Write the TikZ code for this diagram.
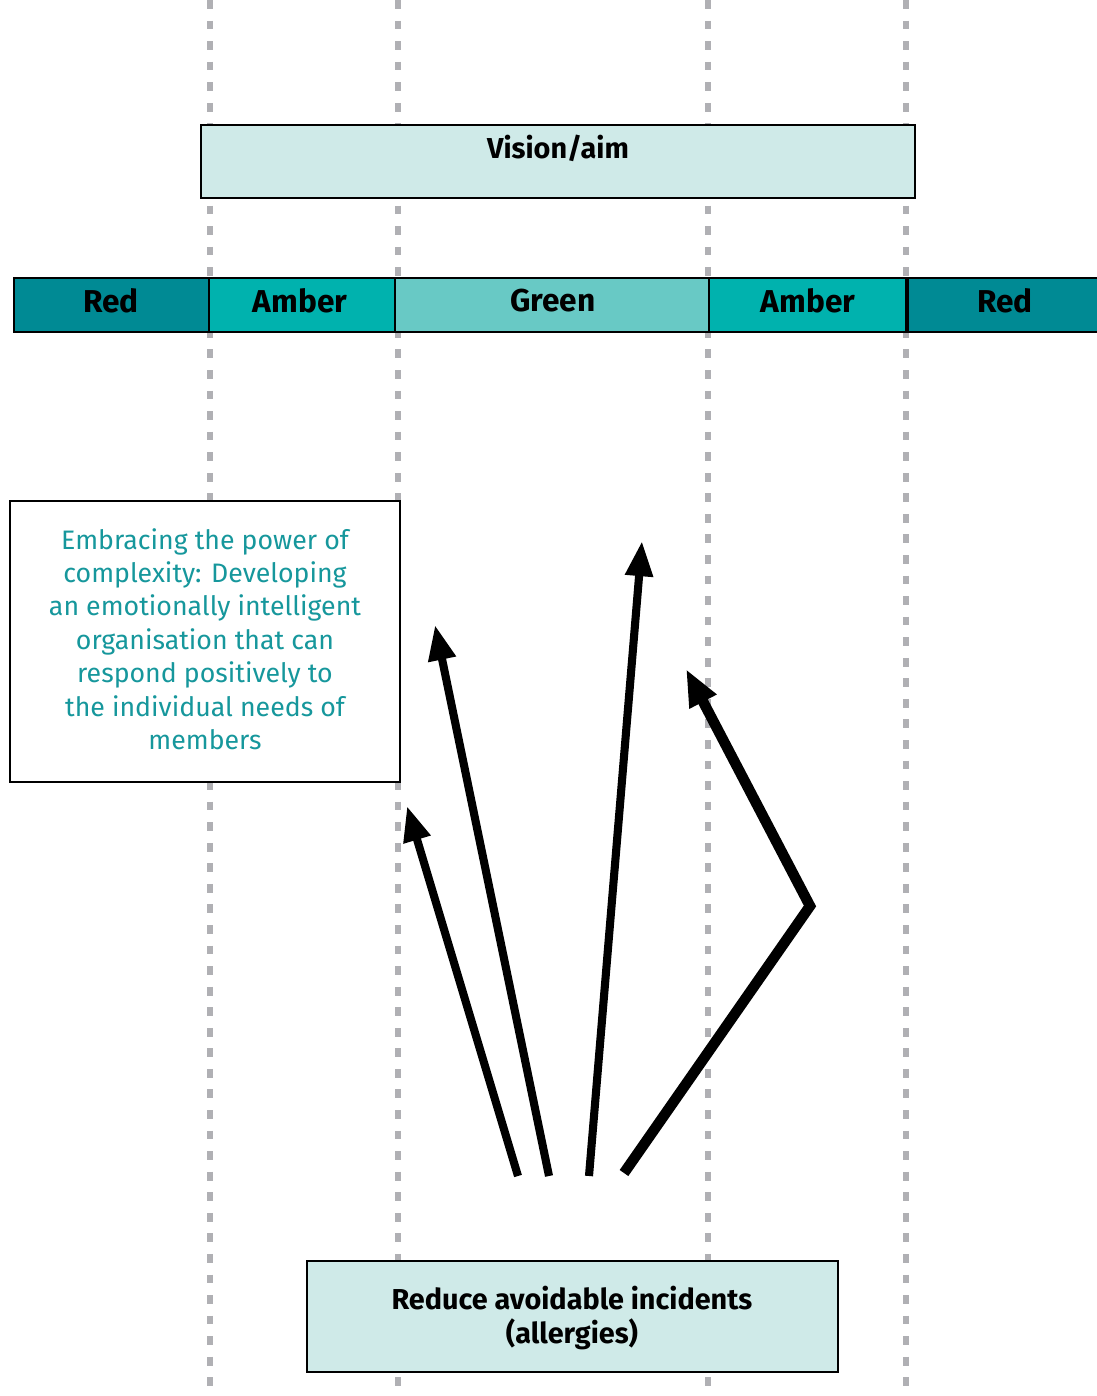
\documentclass[tikz,border=0pt]{standalone}
\usepackage{fontspec}
\setmainfont{Fira Sans}
\usetikzlibrary{arrows.meta}
\definecolor{bandred}{HTML}{008A94}
\definecolor{bandamber}{HTML}{00B2AE}
\definecolor{bandgreen}{HTML}{68C9C5}
\definecolor{paleteal}{HTML}{CFEAE8}
\definecolor{inkteal}{HTML}{16979C}
\definecolor{guidegray}{HTML}{B0B0B4}
\begin{document}
\begin{tikzpicture}[x=0.02cm, y=-0.02cm, line join=miter,
  guide/.style={draw=guidegray, line width=2.9pt, dash pattern=on 5pt off 6.7pt},
  seg/.style={draw=black, line width=1.2pt},
  bandlbl/.style={font=\bfseries\fontsize{18}{20}\selectfont},
  boxlbl/.style={font=\bfseries\fontsize{16.4}{19}\selectfont, align=center},
  push/.style={line width=4.6pt, -{Triangle[length=20pt,width=15pt]}},
  bigpush/.style={line width=6pt, -{Triangle[length=21pt,width=16pt]}}]
\useasboundingbox (0,0) rectangle (1096,1396);
\foreach \x in {210,398,708,906} \draw[guide] (\x,0) -- (\x,1396);
\draw[seg, fill=paleteal] (201,125) rectangle (915,198);
\node[boxlbl] (vision) at (558,148) {Vision/aim};
\draw[seg, fill=bandred]   (14,278)  rectangle (209,332);
\draw[seg, fill=bandamber] (209,278) rectangle (395,332);
\draw[seg, fill=bandgreen] (395,278) rectangle (709,332);
\draw[seg, fill=bandamber] (709,278) rectangle (906,332);
\draw[seg, fill=bandred]   (908,278) rectangle (1110,332);
\node[bandlbl] (redl)   at (111,301)  {Red};
\node[bandlbl] (amberl) at (300,301)  {Amber};
\node[bandlbl] (green)  at (553,301)  {Green};
\node[bandlbl] (amberr) at (808,301)  {Amber};
\node[bandlbl] (redr)   at (1005,301) {Red};
\draw[seg, fill=white] (10,501) rectangle (400,782);
\node[align=center, text=inkteal, font=\fontsize{15.2}{19}\selectfont] (power) at (205,639)
  {Embracing the power of\\complexity: Developing\\an emotionally intelligent\\organisation that can\\respond positively to\\the individual needs of\\members};
\draw[seg, fill=paleteal] (307,1261) rectangle (838,1372);
\node[boxlbl] (reduce) at (572,1318) {Reduce avoidable incidents\\(allergies)};
\coordinate (s1) at (518,1176);
\coordinate (s2) at (549,1176);
\coordinate (s3) at (589,1176);
\coordinate (s4) at (624,1173);
\coordinate (bend) at (810,906);
\coordinate (t1) at (407,806);
\coordinate (t2) at (435,625);
\coordinate (t3) at (642,541);
\coordinate (t4) at (686,669);
\draw[push] (s1) -- (t1);
\draw[push] (s2) -- (t2);
\draw[push] (s3) -- (t3);
\draw[bigpush] (s4) -- (bend) -- (t4);
\end{tikzpicture}
\end{document}
